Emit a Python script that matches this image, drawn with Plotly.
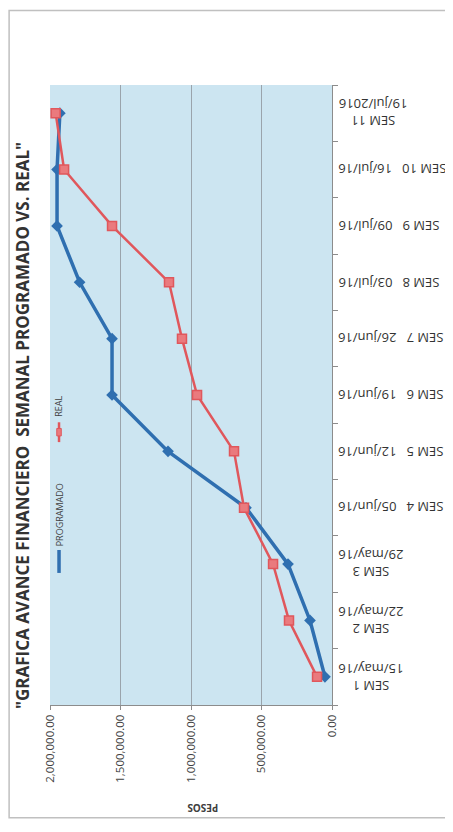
import plotly.graph_objects as go

# weekly cumulative amounts (pesos)
semanas = ["SEM 1", "SEM 2", "SEM 3", "SEM 4", "SEM 5", "SEM 6",
           "SEM 7", "SEM 8", "SEM 9", "SEM 10", "SEM 11"]
fechas = ["15/may/16", "22/may/16", "29/may/16", "05/jun/16", "12/jun/16", "19/jun/16",
          "26/jun/16", "03/jul/16", "09/jul/16", "16/jul/16", "19/jul/2016"]
programado = [50000, 156000, 312000, 610000, 1163000, 1560000,
              1560000, 1790000, 1950000, 1950000, 1930000]
real = [106000, 305000, 418000, 624000, 695000, 957000,
        1064000, 1156000, 1560000, 1900000, 1960000]
pesos_ticks = [0, 500000, 1000000, 1500000, 2000000]
# which category labels wrap onto two lines in the original
dos_lineas = {"SEM 1", "SEM 2", "SEM 3", "SEM 11"}

AZUL = "#2f6fb0"
ROJO = "#e0575c"
GRIS = "#404040"
FONDO = "#cce5f1"
NB = "\u00a0"

fig = go.Figure()
fig.add_trace(go.Scatter(
    x=programado, y=semanas, mode="lines+markers", name="PROGRAMADO",
    line=dict(color=AZUL, width=3.5),
    marker=dict(symbol="diamond", size=9, color=AZUL),
))
fig.add_trace(go.Scatter(
    x=real, y=semanas, mode="lines+markers", name="REAL",
    line=dict(color=ROJO, width=2.5),
    marker=dict(symbol="square", size=9, color="#ea7a7e", line=dict(color=ROJO, width=1.5)),
))

# chart is printed rotated: category labels are upside down on the right
annotations = []
for sem, fecha in zip(semanas, fechas):
    if sem in dos_lineas:
        txt = f"{sem}<br>{fecha}"
    else:
        txt = f"{sem}{NB * 3}{fecha}"
    annotations.append(dict(
        x=1.015, xref="paper", y=sem, yref="y", text=txt, showarrow=False,
        textangle=180, xanchor="left", yanchor="middle", align="center",
        font=dict(size=13, color="#333333", family="Open Sans"),
    ))


def texto_paper(x, y, text, size, angle, color=GRIS):
    return dict(x=x, y=y, xref="paper", yref="paper", text=text, showarrow=False,
                textangle=angle, xanchor="center", yanchor="middle",
                font=dict(size=size, color=color, family="Open Sans"))


annotations += [
    texto_paper(-0.099, 0.45,
                '<b>"GRAFICA AVANCE FINANCIERO  SEMANAL PROGRAMADO VS. REAL"</b>',
                17, -90, "#333333"),
    texto_paper(0.543, -0.165, "<b>PESOS</b>", 10, 180),
    texto_paper(0.032, 0.481, "REAL", 9, -90),
    texto_paper(0.032, 0.306, "PROGRAMADO", 9, -90),
]

shapes = [
    # outer chart border
    dict(type="rect", xref="paper", yref="paper", x0=-0.145, x1=1.45, y0=-0.182, y1=1.12,
         line=dict(color="#c0c0c0", width=1.5), layer="below"),
    # legend samples
    dict(type="line", xref="paper", yref="paper", x0=0.032, x1=0.032, y0=0.424, y1=0.456,
         line=dict(color=ROJO, width=2.5)),
    dict(type="rect", xref="paper", yref="paper", x0=0.024, x1=0.040, y0=0.434, y1=0.446,
         line=dict(color=ROJO, width=1), fillcolor="#ea7a7e"),
    dict(type="line", xref="paper", yref="paper", x0=0.032, x1=0.032, y0=0.213, y1=0.25,
         line=dict(color=AZUL, width=3.5)),
]

# page body keeps an 8px margin, so the figure is sized to fit inside the window
fig.update_layout(
    width=445, height=824,
    margin=dict(l=42, r=121, t=77, b=127),
    paper_bgcolor="white", plot_bgcolor=FONDO,
    showlegend=False,
    font=dict(family="Open Sans", color=GRIS),
    annotations=annotations, shapes=shapes,
    xaxis=dict(
        range=[2000000, 0], tickvals=pesos_ticks, tickformat=",.2f",
        tickangle=-90, tickfont=dict(size=11.5, color=GRIS),
        showgrid=True, gridcolor="#9aa4ac", gridwidth=1,
        zeroline=False, showline=True, linecolor="#8c8c8c", linewidth=1,
        ticks="outside", ticklen=4, tickcolor="#8c8c8c",
    ),
    yaxis=dict(
        type="category", side="right", showticklabels=False,
        showgrid=False, zeroline=False, showline=True, linecolor="#8c8c8c", linewidth=1,
        ticks="outside", ticklen=5, tickcolor="#8c8c8c", tickson="boundaries",
        range=[-0.5, 10.5],
    ),
)

fig.write_html("out.html")
